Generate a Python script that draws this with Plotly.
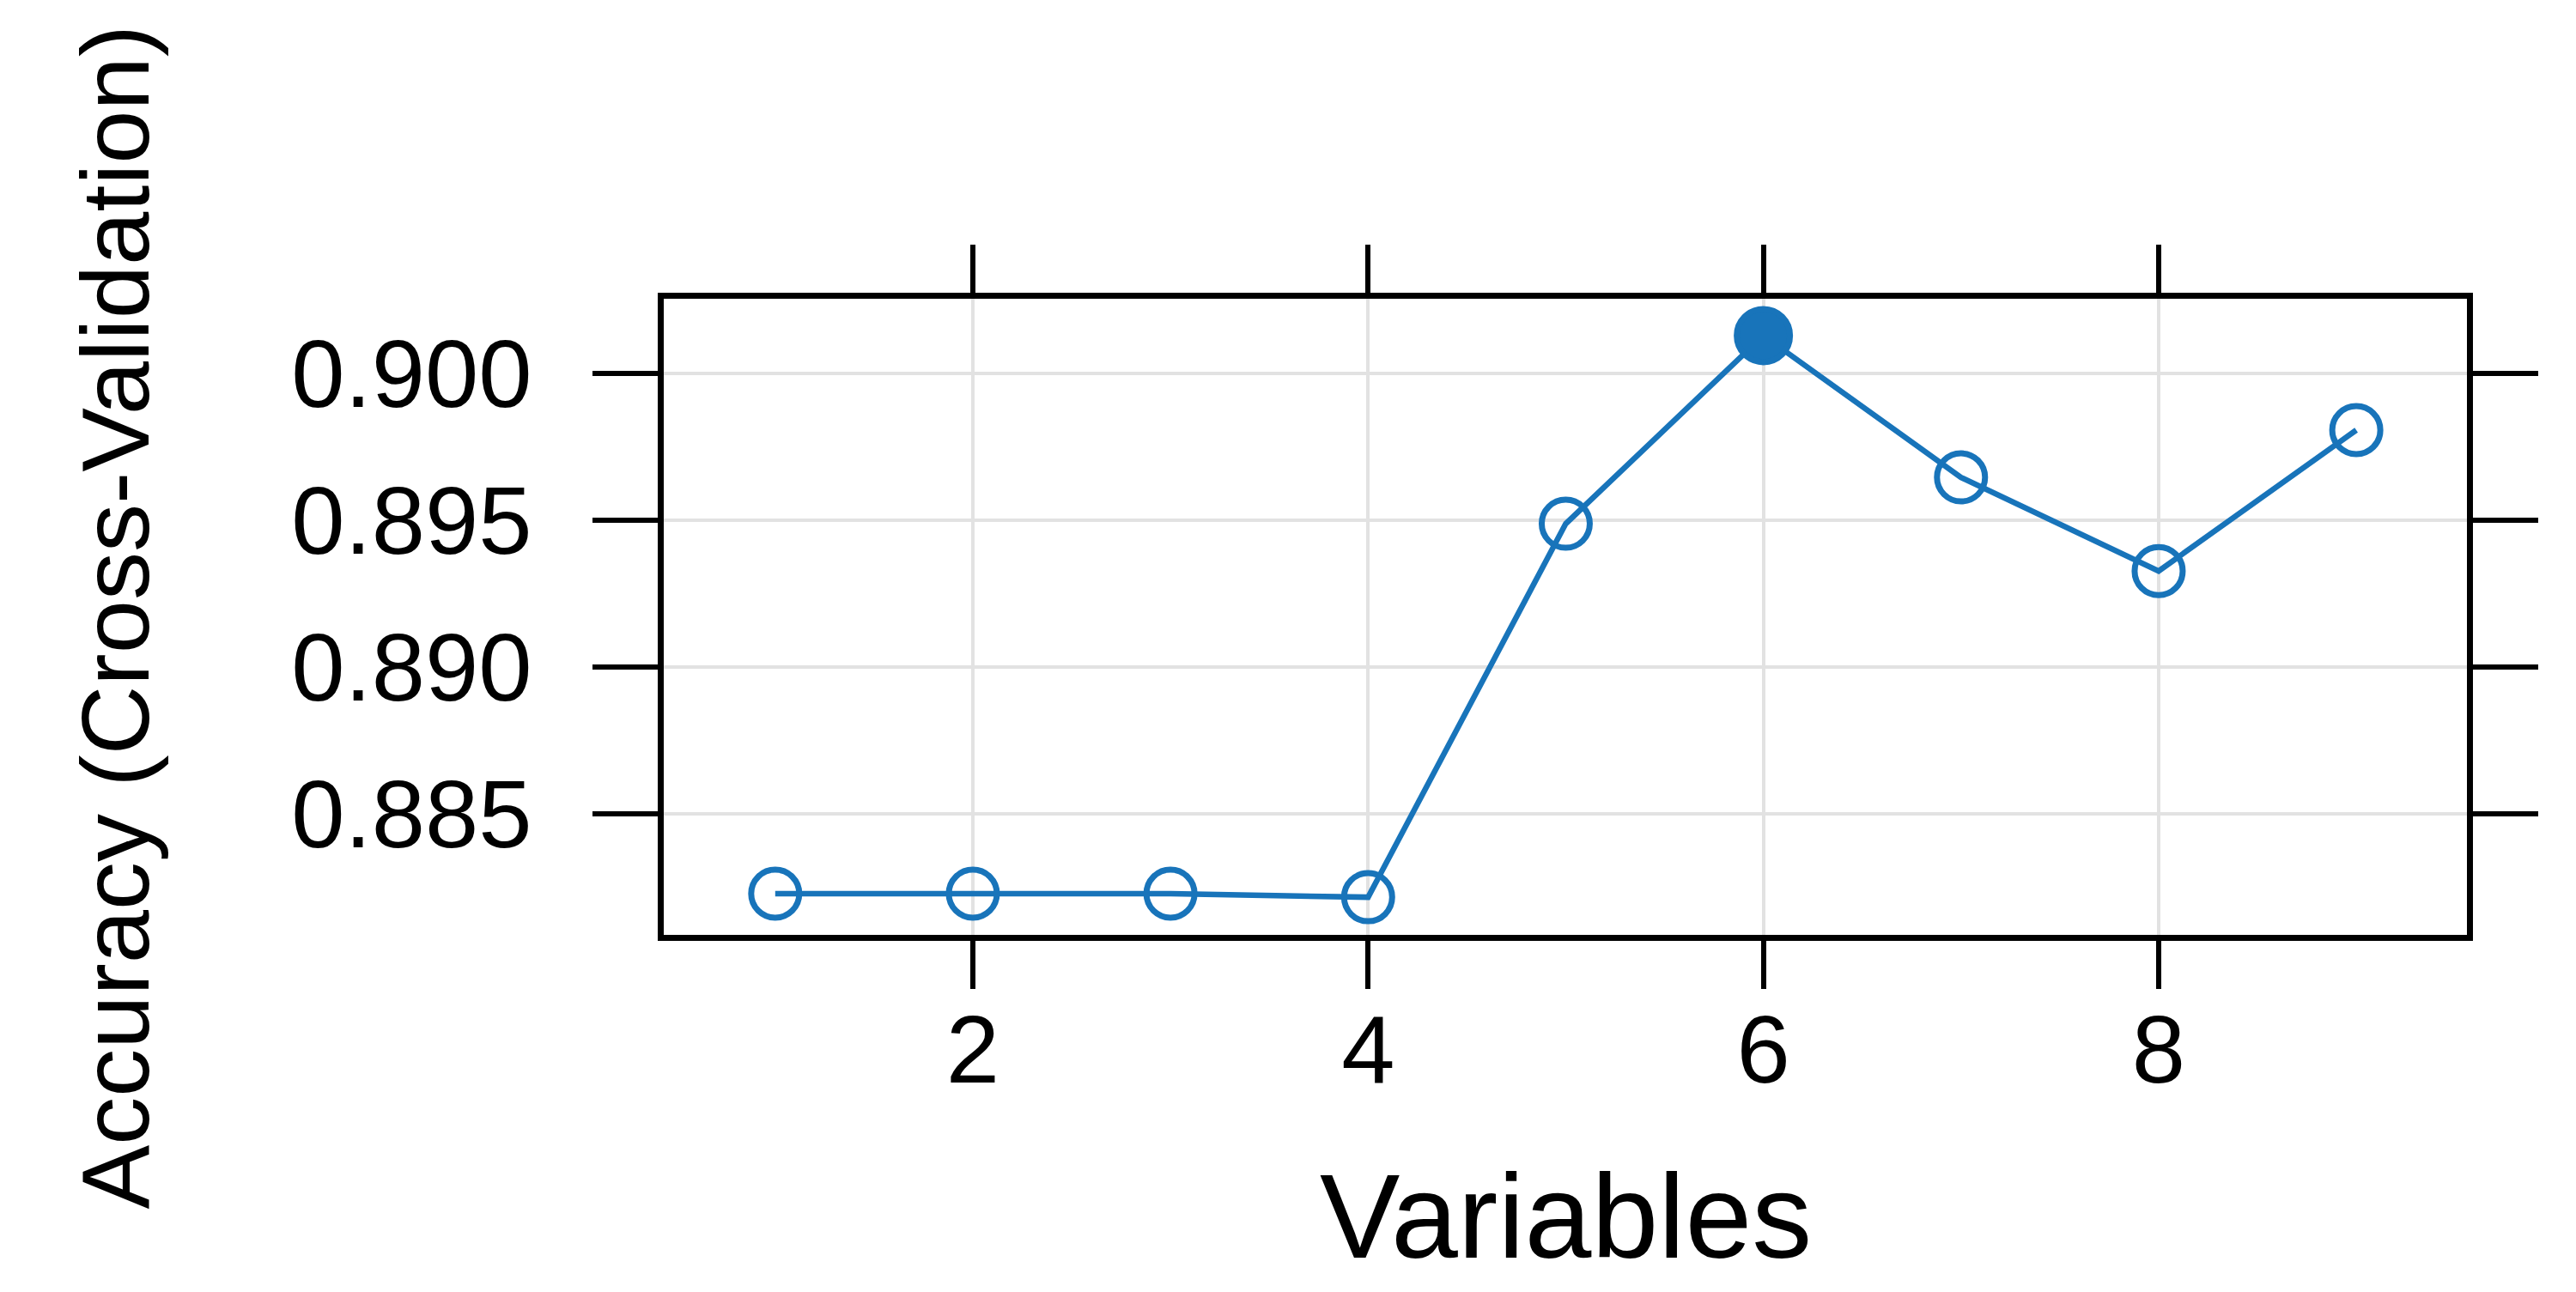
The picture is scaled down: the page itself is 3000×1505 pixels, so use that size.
import plotly.graph_objects as go

# Data
variables = [1, 2, 3, 4, 5, 6, 7, 8, 9]
accuracy = [0.88228, 0.88228, 0.88228, 0.88216, 0.89488, 0.90129, 0.89646, 0.89327, 0.89807]

x_tick_vals = [2, 4, 6, 8]
y_tick_vals = [0.885, 0.890, 0.895, 0.900]
y_tick_text = [f"{v:.3f}" for v in y_tick_vals]

x_title = "Variables"
y_title = "Accuracy (Cross-Validation)"

color = "#1874BA"
font_family = "Liberation Sans, Arial, Helvetica, sans-serif"

best = accuracy.index(max(accuracy))
symbols = ["circle" if i == best else "circle-open" for i in range(len(accuracy))]
sizes = [62 if i == best else 56 for i in range(len(accuracy))]

fig = go.Figure()
fig.add_trace(go.Scatter(
    x=variables,
    y=accuracy,
    mode="lines+markers",
    line=dict(color=color, width=6.5),
    marker=dict(symbol=symbols, size=sizes, color=color, opacity=1,
                line=dict(color=color, width=7)),
    showlegend=False,
))

axis_common = dict(
    showline=True, linecolor="black", linewidth=7,
    mirror="ticks", ticks="outside", tickcolor="black", tickwidth=5.5,
    showgrid=True, gridcolor="#e2e2e2", gridwidth=4,
    zeroline=False,
    tickfont=dict(family=font_family, size=112, color="black"),
)

fig.update_xaxes(
    range=[0.436, 9.56], tickvals=x_tick_vals, ticklen=56,
    ticklabelstandoff=-25,
    **axis_common,
)
fig.update_yaxes(
    range=[0.880877, 0.902544], tickvals=y_tick_vals,
    ticktext=y_tick_text, ticklen=76,
    ticklabelstandoff=48,
    **axis_common,
)

fig.add_annotation(
    text=x_title, xref="paper", yref="paper", x=0.5, y=-0.4426,
    xanchor="center", yanchor="middle", showarrow=False,
    font=dict(family=font_family, size=140, color="black"),
)
fig.add_annotation(
    text=y_title, xref="paper", yref="paper", x=(126 - 765) / 2100, y=0.5,
    xanchor="center", yanchor="middle", textangle=-90, showarrow=False,
    font=dict(family=font_family, size=112, color="black"),
)

fig.update_layout(
    width=3000, height=1505,
    margin=dict(l=765, r=135, t=340, b=424, autoexpand=False),
    plot_bgcolor="white", paper_bgcolor="white",
    font=dict(family=font_family, color="black"),
)

fig.write_html("out.html")
